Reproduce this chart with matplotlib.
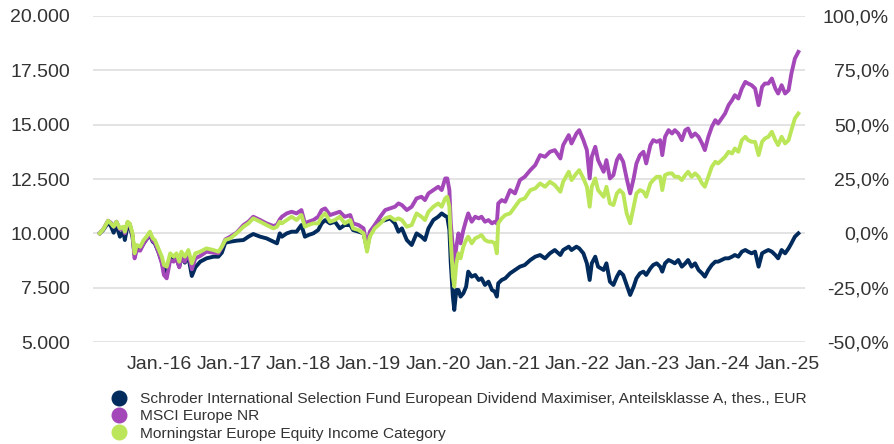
import matplotlib
matplotlib.use("Agg")
import matplotlib.pyplot as plt
from matplotlib.lines import Line2D

plt.rcParams['font.family'] = ['Liberation Sans', 'DejaVu Sans']

# time in decimal years
t = [2015.15, 2015.20, 2015.27, 2015.31, 2015.35, 2015.39, 2015.44, 2015.49, 2015.51, 2015.55,
     2015.58, 2015.62, 2015.65, 2015.68, 2015.73, 2015.78, 2015.82, 2015.87, 2015.91, 2015.94,
     2015.99, 2016.04, 2016.07, 2016.11, 2016.16, 2016.21, 2016.25, 2016.29, 2016.32, 2016.37,
     2016.42, 2016.47, 2016.52, 2016.59, 2016.68, 2016.78, 2016.85, 2016.90, 2016.95, 2017.02,
     2017.11, 2017.21, 2017.28, 2017.35, 2017.45, 2017.54, 2017.64, 2017.69, 2017.73,
     2017.76, 2017.83, 2017.90, 2017.97, 2018.04, 2018.09, 2018.14, 2018.21, 2018.28, 2018.33,
     2018.38, 2018.45, 2018.52, 2018.59, 2018.66, 2018.74, 2018.78, 2018.86, 2018.93, 2018.98,
     2019.02, 2019.09, 2019.17, 2019.24, 2019.31, 2019.38, 2019.43, 2019.48, 2019.55, 2019.62,
     2019.69, 2019.76, 2019.81, 2019.86, 2019.93, 2020.00, 2020.05, 2020.10, 2020.13,
     2020.16, 2020.18, 2020.21, 2020.23, 2020.26, 2020.29, 2020.32, 2020.36, 2020.40, 2020.43,
     2020.48, 2020.53, 2020.58, 2020.62, 2020.67, 2020.72, 2020.77, 2020.81, 2020.84, 2020.86,
     2020.91, 2020.96, 2021.03, 2021.10, 2021.17, 2021.24, 2021.32, 2021.39, 2021.46, 2021.53,
     2021.60, 2021.67, 2021.75, 2021.79, 2021.87, 2021.91, 2021.98, 2022.02, 2022.08, 2022.13,
     2022.17, 2022.20, 2022.25, 2022.29, 2022.37, 2022.41, 2022.46, 2022.51, 2022.56, 2022.60,
     2022.65, 2022.70, 2022.75,
     2022.80, 2022.84, 2022.89, 2022.94, 2022.98, 2023.04, 2023.08, 2023.13, 2023.18, 2023.21,
     2023.25, 2023.30, 2023.35, 2023.39, 2023.44, 2023.49, 2023.54, 2023.58, 2023.63, 2023.68,
     2023.73, 2023.78, 2023.82, 2023.87, 2023.92, 2023.97, 2024.01, 2024.06, 2024.11, 2024.16,
     2024.21, 2024.25, 2024.30, 2024.35, 2024.40, 2024.44, 2024.49, 2024.54, 2024.59, 2024.64,
     2024.68, 2024.73, 2024.78, 2024.83, 2024.87, 2024.92, 2024.97, 2025.02, 2025.06, 2025.11,
     2025.16]

fund = [10000, 10152, 10489, 10335, 10029, 10381, 9845, 10075, 9692, 10381,
        10305, 9845, 9003, 9309, 9263, 9539, 9723, 9922, 9615, 9539,
        9156, 8696, 8313, 8237, 8849, 8742, 8849, 8467, 8926, 8650,
        8926, 8037, 8436, 8696, 8849, 8926, 8926, 9110, 9569, 9615,
        9661, 9692, 9845, 9968, 9845, 9769, 9615, 9539, 9998,
        9845, 9998, 10075, 10075, 10381, 9845, 9922, 9998, 10151, 10458,
        10611, 10458, 10534, 10228, 10381, 10381, 10151, 10075, 9998, 9300,
        9922, 10305, 10534, 10611, 10688, 10458, 10075, 10228, 9692, 9462,
        9998, 9845, 9692, 10228, 10611, 10764, 10917, 10800, 10750,
        10152, 8620, 7088, 6475, 7394, 7394, 7088, 7241, 7547, 8237,
        8007, 8083, 7854, 7930, 7624, 7777, 7394, 7317, 7088, 7700,
        7854, 7930, 8160, 8313, 8466, 8543, 8773, 8926, 9002, 8849,
        9079, 9232, 9002, 9232, 9386, 9232, 9386, 9309, 9079, 8620,
        7854, 8620, 8926, 8466, 8313, 8620, 7777, 7624, 8007, 8237,
        8083, 7624, 7164,
        7548, 7930, 8160, 8237, 8084, 8390, 8543, 8620, 8466, 8237,
        8620, 8773, 8696, 8620, 8773, 8466, 8620, 8773, 8466, 8620,
        8313, 8160, 8007, 8313, 8543, 8696, 8696, 8773, 8850, 8850,
        8926, 9003, 8926, 9156, 9233, 9156, 9080, 9156, 8466, 9080,
        9156, 9233, 9156, 9003, 8850, 9233, 9080, 9310, 9539, 9846,
        10000]

msci = [10000, 10182, 10581, 10489, 10305, 10535, 10182, 10274, 9998, 10504,
        10427, 9922, 8849, 9232, 9202, 9539, 9723, 9998, 9661, 9569,
        9156, 8620, 8083, 7930, 8773, 8696, 8849, 8436, 8926, 8696,
        9079, 8344, 8849, 8957, 9156, 9110, 9079, 9355, 9723, 9845,
        10029, 10381, 10535, 10764, 10611, 10458, 10335, 10397, 10642,
        10764, 10917, 10994, 10917, 11071, 10458, 10534, 10611, 10764, 11071,
        11147, 10841, 10917, 10994, 10764, 10841, 10458, 10381, 10228, 9400,
        10075, 10381, 10764, 11071, 11147, 11224, 11377, 11300, 11071, 11224,
        11607, 11683, 11530, 11837, 11990, 12143, 11990, 12526, 12526,
        11990, 10458, 9386, 8620, 9386, 9998, 9539, 10152, 10611, 10918,
        10535, 10764, 10688, 10764, 10535, 10611, 10458, 10535, 10458, 11377,
        11530, 11454, 11990, 11837, 12450, 12603, 12909, 13139, 13599, 13522,
        13752, 13828, 13445, 14058, 14518, 14135, 14594, 14748, 14288, 13828,
        12526, 13522, 13982, 13369, 12833, 13369, 12526, 12679, 13369, 13599,
        13292, 12526, 11837,
        12527, 13216, 13599, 13752, 13216, 14059, 14288, 14212, 14288, 13599,
        14442, 14748, 14595, 14748, 14595, 14288, 14748, 14825, 14442, 14595,
        14442, 14135, 13829, 14442, 14901, 15208, 15054, 15284, 15514, 15897,
        16127, 16357, 16203, 16663, 16969, 16893, 16816, 16663, 15897, 16740,
        16893, 16893, 17123, 16663, 16433, 16816, 16433, 16586, 17352, 18042,
        18348]

category = [10000, 10182, 10581, 10458, 10305, 10535, 10228, 10305, 10075, 10535,
            10458, 9998, 9079, 9462, 9386, 9692, 9845, 10075, 9769, 9692,
            9309, 8926, 8543, 8467, 9079, 8926, 9079, 8696, 9156, 8926,
            9232, 8620, 9079, 9156, 9309, 9232, 9156, 9386, 9692, 9769,
            9998, 10305, 10458, 10688, 10535, 10381, 10228, 10305, 10535,
            10458, 10611, 10764, 10611, 10841, 10305, 10381, 10458, 10458, 10764,
            10917, 10534, 10611, 10764, 10458, 10611, 10228, 10151, 9998, 9156,
            9845, 10228, 10458, 10688, 10764, 10611, 10688, 10611, 10305, 10381,
            10917, 10764, 10611, 10994, 11224, 11377, 11224, 11607, 11683,
            11224, 9692, 8007, 7547, 8620, 9079, 8849, 9386, 9692, 9845,
            9539, 9769, 9845, 9922, 9692, 9615, 9615, 9539, 9079, 10458,
            10688, 10841, 10918, 11224, 11530, 11607, 11990, 12066, 12296, 12143,
            12373, 12220, 11913, 12373, 12833, 12450, 12756, 12909, 12526, 12143,
            11224, 12143, 12526, 11990, 11684, 12143, 11377, 11301, 11837, 11990,
            11837, 10918, 10458,
            11224, 11837, 11990, 11914, 11684, 12297, 12450, 12603, 12603, 11990,
            12680, 12756, 12756, 12603, 12603, 12450, 12680, 12833, 12603, 12756,
            12603, 12297, 12144, 12603, 13063, 13293, 13216, 13369, 13522, 13752,
            13676, 13905, 13752, 14288, 14442, 14288, 14212, 14212, 13599, 14212,
            14365, 14442, 14671, 14288, 14059, 14442, 14135, 14288, 14748, 15284,
            15514]

series_names = ["Schroder International Selection Fund European Dividend Maximiser, Anteilsklasse A, thes., EUR",
                "MSCI Europe NR",
                "Morningstar Europe Equity Income Category"]
series_colors = ["#002b5c", "#a347b9", "#bce65a"]

year_ticks = list(range(2016, 2026))
year_labels = ["Jan.-%02d" % (y % 100) for y in year_ticks]
left_ticks = [5000, 7500, 10000, 12500, 15000, 17500, 20000]
right_ticks = [-50, -25, 0, 25, 50, 75, 100]

W, H = 895, 444
fig = plt.figure(figsize=(W / 100, H / 100), dpi=100)
L, R, T, B = 93, 805, 16, 342
ax = fig.add_axes([L / W, 1 - B / H, (R - L) / W, (B - T) / H])

for vals, col in zip([fund, msci, category], series_colors):
    ax.plot(t, vals, color=col, lw=2.8, solid_joinstyle='round', zorder=3)

ax.set_xlim(2015.054, 2025.255)
ax.set_ylim(5000, 20000)
ax.set_yticks(left_ticks)
ax.set_yticklabels([f"{v:,}".replace(",", ".") for v in left_ticks])
ax.set_xticks(year_ticks)
ax.set_xticklabels(year_labels)
for s in ax.spines.values():
    s.set_visible(False)
ax.grid(axis='y', color='#e0e0e0', lw=1.3)
ax.set_axisbelow(True)
ax.tick_params(axis='y', length=0, labelsize=14, labelcolor='#333333', pad=16.5)
ax.tick_params(axis='x', length=0, labelsize=14, labelcolor='#333333', pad=10)

ax2 = ax.twinx()
ax2.set_ylim(-50, 100)
ax2.set_yticks(right_ticks)
ax2.set_yticklabels([f"{v:.1f}".replace(".", ",") + "%" for v in right_ticks])
for s in ax2.spines.values():
    s.set_visible(False)
ax2.tick_params(axis='y', length=0, labelsize=14, labelcolor='#333333', pad=60.5)
for lab in ax2.get_yticklabels():
    lab.set_horizontalalignment('right')

handles = [Line2D([], [], marker='o', linestyle='none', markersize=10.5, color=c) for c in series_colors]
fig.legend(handles, series_names, loc='upper left', bbox_to_anchor=(111.4 / W, 1 - 392 / H),
           frameon=False, fontsize=11.15, handlelength=1.0, handletextpad=0.84,
           labelspacing=0.22, borderpad=0, borderaxespad=0, labelcolor='#333333')

fig.savefig("out.png", dpi=100)
